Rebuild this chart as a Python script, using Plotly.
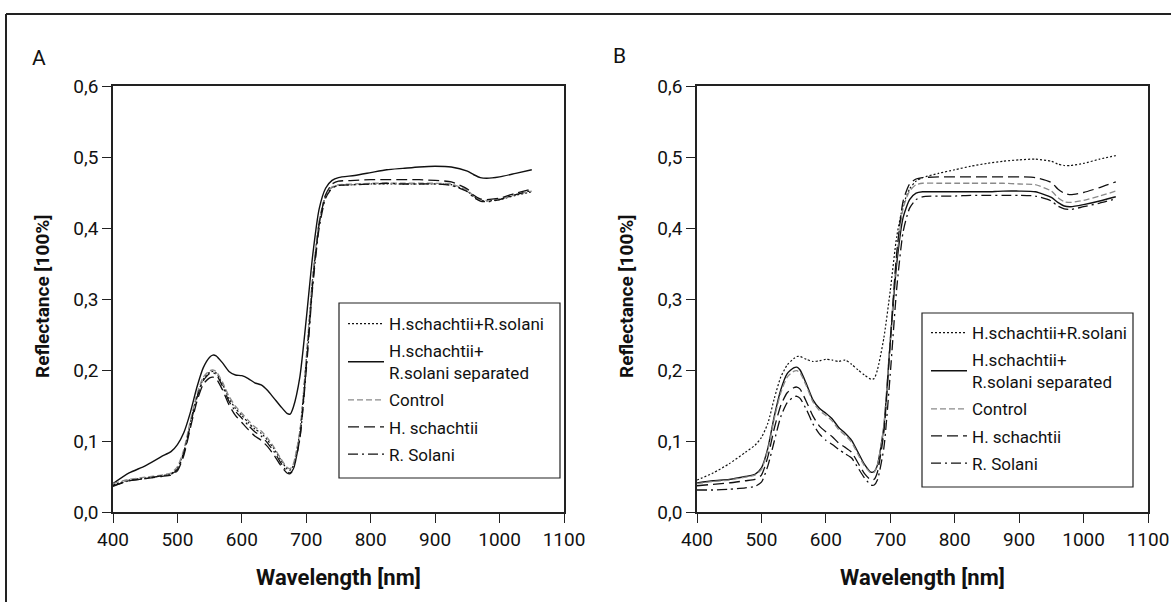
import plotly.graph_objects as go

wl = [400, 425, 450, 475, 490, 500, 510, 520, 530, 540, 550, 555, 560, 570, 580, 590, 600, 610, 620, 630,
      640, 650, 660, 670, 675, 680, 690, 700, 710, 720, 730, 740, 750, 775, 800, 825, 850, 875, 900, 925,
      950, 960, 970, 980, 1000, 1025, 1050]

series_names = ["H.schachtii+R.solani", "H.schachtii+<br>R.solani separated", "Control", "H. schachtii", "R. Solani"]

# Panel A
a_hsrs = [0.038, 0.045, 0.048, 0.051, 0.054, 0.062, 0.085, 0.125, 0.162, 0.187, 0.197, 0.198, 0.196,
          0.180, 0.160, 0.146, 0.136, 0.126, 0.117, 0.111, 0.101, 0.089, 0.074, 0.061, 0.059,
          0.066, 0.112, 0.215, 0.330, 0.408, 0.445, 0.457, 0.460,
          0.461, 0.462, 0.462, 0.462, 0.462, 0.462, 0.461, 0.452, 0.444, 0.439, 0.438, 0.440, 0.446, 0.451]
a_sep = [0.040, 0.055, 0.065, 0.078, 0.085, 0.095, 0.112, 0.140, 0.175, 0.203, 0.218, 0.221, 0.220,
         0.210, 0.198, 0.193, 0.192, 0.188, 0.182, 0.179, 0.171, 0.160, 0.149, 0.139, 0.138,
         0.148, 0.190, 0.272, 0.362, 0.427, 0.456, 0.467, 0.471,
         0.474, 0.478, 0.482, 0.484, 0.486, 0.487, 0.486, 0.480, 0.475, 0.471, 0.470, 0.472, 0.477, 0.482]
a_ctrl = [0.040, 0.046, 0.049, 0.052, 0.055, 0.064, 0.088, 0.128, 0.165, 0.190, 0.199, 0.200, 0.198,
          0.183, 0.163, 0.149, 0.139, 0.129, 0.120, 0.114, 0.104, 0.091, 0.076, 0.063, 0.061,
          0.068, 0.114, 0.218, 0.333, 0.410, 0.446, 0.458, 0.461,
          0.462, 0.463, 0.463, 0.463, 0.463, 0.463, 0.462, 0.453, 0.445, 0.440, 0.439, 0.441, 0.447, 0.452]
a_hs = [0.037, 0.044, 0.047, 0.050, 0.052, 0.058, 0.080, 0.118, 0.155, 0.180, 0.189, 0.190, 0.188,
        0.172, 0.151, 0.136, 0.126, 0.116, 0.107, 0.101, 0.092, 0.080, 0.066, 0.055, 0.054,
        0.060, 0.104, 0.205, 0.322, 0.405, 0.447, 0.462, 0.466,
        0.467, 0.468, 0.468, 0.468, 0.468, 0.467, 0.465, 0.455, 0.446, 0.441, 0.440, 0.442, 0.449, 0.455]
a_rs = [0.036, 0.044, 0.047, 0.051, 0.053, 0.060, 0.083, 0.122, 0.160, 0.185, 0.195, 0.196, 0.194,
        0.177, 0.156, 0.142, 0.132, 0.122, 0.113, 0.107, 0.097, 0.085, 0.070, 0.057, 0.055,
        0.061, 0.103, 0.200, 0.318, 0.400, 0.442, 0.456, 0.460,
        0.461, 0.462, 0.463, 0.462, 0.462, 0.462, 0.460, 0.451, 0.443, 0.438, 0.437, 0.440, 0.447, 0.453]

# Panel B
b_hsrs = [0.045, 0.055, 0.068, 0.084, 0.094, 0.105, 0.125, 0.160, 0.190, 0.207, 0.216, 0.219, 0.219,
          0.215, 0.212, 0.213, 0.215, 0.214, 0.212, 0.214, 0.208, 0.200, 0.193, 0.187, 0.188,
          0.200, 0.245, 0.312, 0.388, 0.432, 0.455, 0.466, 0.471,
          0.477, 0.482, 0.487, 0.491, 0.494, 0.496, 0.497, 0.494, 0.490, 0.488, 0.488, 0.491, 0.497, 0.502]
b_sep = [0.041, 0.044, 0.046, 0.050, 0.053, 0.062, 0.090, 0.135, 0.172, 0.195, 0.203, 0.204, 0.200,
         0.180, 0.158, 0.146, 0.139, 0.131, 0.119, 0.111, 0.101, 0.084, 0.067, 0.056, 0.057,
         0.066, 0.120, 0.240, 0.350, 0.415, 0.440, 0.449, 0.451,
         0.451, 0.451, 0.451, 0.451, 0.452, 0.452, 0.451, 0.443, 0.436, 0.431, 0.430, 0.433, 0.438, 0.444]
b_ctrl = [0.040, 0.043, 0.045, 0.049, 0.052, 0.060, 0.088, 0.132, 0.168, 0.190, 0.198, 0.199, 0.196,
          0.177, 0.155, 0.143, 0.136, 0.128, 0.116, 0.108, 0.098, 0.081, 0.065, 0.055, 0.056,
          0.066, 0.122, 0.245, 0.360, 0.428, 0.452, 0.461, 0.463,
          0.463, 0.463, 0.463, 0.463, 0.463, 0.462, 0.461, 0.452, 0.443, 0.437, 0.436, 0.439, 0.445, 0.452]
b_hs = [0.037, 0.039, 0.041, 0.044, 0.046, 0.052, 0.078, 0.118, 0.150, 0.168, 0.175, 0.176, 0.173,
        0.155, 0.135, 0.121, 0.113, 0.106, 0.097, 0.091, 0.084, 0.069, 0.054, 0.045, 0.046,
        0.056, 0.112, 0.240, 0.365, 0.438, 0.462, 0.469, 0.471,
        0.472, 0.472, 0.472, 0.472, 0.472, 0.472, 0.471, 0.464, 0.455, 0.449, 0.447, 0.450, 0.457, 0.465]
b_rs = [0.031, 0.031, 0.032, 0.034, 0.036, 0.042, 0.065, 0.100, 0.134, 0.154, 0.162, 0.163, 0.160,
        0.144, 0.124, 0.110, 0.101, 0.095, 0.088, 0.082, 0.076, 0.062, 0.048, 0.038, 0.038,
        0.045, 0.090, 0.195, 0.315, 0.395, 0.428, 0.440, 0.444,
        0.445, 0.445, 0.446, 0.446, 0.446, 0.446, 0.445, 0.438, 0.431, 0.427, 0.426, 0.430, 0.435, 0.441]

x_ticks = [400, 500, 600, 700, 800, 900, 1000, 1100]
x_ticktext = ["400", "500", "600", "700", "800", "900", "1000", "1100"]
y_ticks = [0.0, 0.1, 0.2, 0.3, 0.4, 0.5, 0.6]
y_ticktext = ["0,0", "0,1", "0,2", "0,3", "0,4", "0,5", "0,6"]

FONT = "Roboto, Liberation Sans, sans-serif"
INK = "#111111"
styles = [
    dict(color=INK, width=1.2, dash="2px,2px"),
    dict(color=INK, width=1.4, dash="solid"),
    dict(color="#8a8a8a", width=1.3, dash="6px,3px"),
    dict(color=INK, width=1.3, dash="11px,5px"),
    dict(color=INK, width=1.3, dash="10px,4px,2px,4px"),
]

fig = go.Figure()
panelA = [a_hsrs, a_sep, a_ctrl, a_hs, a_rs]
panelB = [b_hsrs, b_sep, b_ctrl, b_hs, b_rs]
for i, ys in enumerate(panelA):
    fig.add_trace(go.Scatter(x=wl, y=ys, mode="lines", name=series_names[i], legendgroup="a%d" % i,
                             line=dict(**styles[i], shape="spline", smoothing=0.6),
                             xaxis="x", yaxis="y", legend="legend"))
for i, ys in enumerate(panelB):
    fig.add_trace(go.Scatter(x=wl, y=ys, mode="lines", name=series_names[i], legendgroup="b%d" % i,
                             line=dict(**styles[i], shape="spline", smoothing=0.6),
                             xaxis="x2", yaxis="y2", legend="legend2"))

W, H = 1171, 602
def px(xp):
    return xp / W
def py(yp):
    return 1 - yp / H

axis_common = dict(showline=True, linecolor="#222222", linewidth=1.5, mirror=True, ticks="outside", ticklen=9,
                   tickwidth=1.3, tickcolor="#222222", showgrid=False, zeroline=False, automargin=False,
                   tickfont=dict(family=FONT, size=19, color=INK))

legend_common = dict(bgcolor="rgba(0,0,0,0)", borderwidth=0,
                     font=dict(family=FONT, size=17, color=INK),
                     xanchor="left", yanchor="top", itemwidth=36, tracegroupgap=2)

def ann(text, x, y, size, angle=0):
    return dict(text=text, xref="paper", yref="paper", x=px(x), y=py(y), xanchor="center", yanchor="middle",
                textangle=angle, showarrow=False, font=dict(family=FONT, size=size, color=INK))

fig.update_layout(
    width=W, height=H, margin=dict(l=0, r=0, t=0, b=0, pad=0), autosize=False,
    paper_bgcolor="white", plot_bgcolor="white",
    xaxis=dict(domain=[px(113), px(564)], range=[400, 1100], tickvals=x_ticks, ticktext=x_ticktext, anchor="y", **axis_common),
    yaxis=dict(domain=[py(512), py(86)], range=[0, 0.6], tickvals=y_ticks, ticktext=y_ticktext, anchor="x", **axis_common),
    xaxis2=dict(domain=[px(697), px(1148)], range=[400, 1100], tickvals=x_ticks, ticktext=x_ticktext, anchor="y2", **axis_common),
    yaxis2=dict(domain=[py(512), py(86)], range=[0, 0.6], tickvals=y_ticks, ticktext=y_ticktext, anchor="x2", **axis_common),
    legend=dict(x=px(343), y=py(306), **legend_common),
    legend2=dict(x=px(926), y=py(315), **legend_common),
    shapes=[
        dict(type="line", xref="paper", yref="paper", x0=px(6), x1=1, y0=py(14), y1=py(14), line=dict(color="#222222", width=2)),
        dict(type="line", xref="paper", yref="paper", x0=px(6), x1=px(6), y0=py(14), y1=0, line=dict(color="#222222", width=2)),
        dict(type="rect", xref="paper", yref="paper", x0=px(339), x1=px(560), y0=py(303), y1=py(478),
             line=dict(color="#222222", width=1.2), fillcolor="rgba(0,0,0,0)"),
        dict(type="rect", xref="paper", yref="paper", x0=px(922), x1=px(1133), y0=py(313), y1=py(487),
             line=dict(color="#222222", width=1.2), fillcolor="rgba(0,0,0,0)"),
    ],
    annotations=[
        ann("A", 39, 58, 21),
        ann("B", 619, 56, 21),
        ann("<b>Reflectance [100%]</b>", 42, 296, 19, -90),
        ann("<b>Reflectance [100%]</b>", 626, 296, 19, -90),
        ann("<b>Wavelength [nm]</b>", 338, 577, 22),
        ann("<b>Wavelength [nm]</b>", 922, 577, 22),
    ],
)

fig.write_html("out.html", config={"displayModeBar": False},
               post_script="document.body.style.margin='0';document.body.style.overflow='hidden';")
